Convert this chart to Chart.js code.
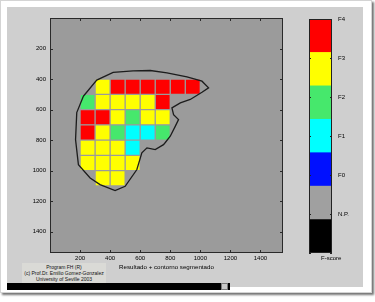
<!DOCTYPE html>
<html>
<head>
<meta charset="utf-8">
<script src="https://cdn.jsdelivr.net/npm/chart.js@4.4.1/dist/chart.umd.min.js"></script>
<style>
    html, body { margin: 0; padding: 0; width: 375px; height: 302px; overflow: hidden; background: #fff; font-family: "Liberation Sans", Arial, sans-serif; }
    .frame { position: absolute; left: 0; top: 0; width: 370px; height: 291px; border: 1px solid #d4d4d4; box-shadow: 2px 2px 2px rgba(0,0,0,0.55); background: #fff; }
    .fig { position: absolute; left: 7px; top: 7px; width: 356px; height: 280px; background: #cfcfcf; }
    .statusbar { position: absolute; left: 7px; top: 283px; width: 223px; height: 7px; background: #000; }
    .statusbar .btn { position: absolute; right: 2px; top: 0; width: 5px; height: 5px; background: #c8c8c8; border: 1px solid #777; }
    canvas { position: absolute; top: 0; }
    #main { left: 0; }
    #cbar { left: 300px; }
    .credit { position: absolute; left: 22px; top: 263px; width: 84px; height: 20px; background: #dadad6; color: #111; font-size: 5px; line-height: 6px; text-align: center; padding-top: 1px; }
    .cblabel { position: absolute; left: 321px; top: 255px; font-size: 6px; color: #000; }
</style>
</head>
<body>
<div class="frame"></div>
<div class="fig"></div>
<canvas id="main" width="375" height="302"></canvas>
<canvas id="cbar" width="75" height="302"></canvas>
<div class="credit">Program FH (R)<br>(c) Prof.Dr. Emilio Gomez-Gonzalez<br>University of Seville 2003</div>
<div class="cblabel">F-score</div>
<div class="statusbar"><div class="btn"></div></div>

<script>
// --- datos ---
const xTicks = [200, 400, 600, 800, 1000, 1200, 1400];
const yTicks = [200, 400, 600, 800, 1000, 1200, 1400];
const colStarts = [200, 300, 400, 500, 600, 700, 800, 900];
const rowStarts = [400, 500, 600, 700, 800, 900, 1000];
const cellSize = 100;

// F-score por celda (fila = rowStarts, columna = colStarts)
const fscoreRows = [
    ['',   'F3', 'F4', 'F4', 'F4', 'F4', 'F4', 'F4'],
    ['F2', 'F3', 'F3', 'F3', 'F3', 'F4', '',   ''  ],
    ['F4', 'F4', 'F3', 'F2', 'F3', 'F3', '',   ''  ],
    ['F4', 'F3', 'F2', 'F1', 'F1', 'F2', '',   ''  ],
    ['F3', 'F3', 'F3', 'F1', '',   '',   '',   ''  ],
    ['F3', 'F3', 'F3', 'F3', '',   '',   '',   ''  ],
    ['',   'F3', 'F3', '',   '',   '',   '',   ''  ]
];

// contorno segmentado
const contourX = [222, 311, 420, 553, 667, 778, 911, 1011, 1055, 1011, 933, 867, 811, 822, 855, 833, 800, 767, 755, 700, 645, 611, 578, 500, 433, 333, 267, 189, 170, 178, 222];
const contourY = [513, 407, 357, 346, 344, 359, 386, 414, 458, 487, 534, 556, 589, 633, 666, 710, 775, 816, 830, 862, 851, 884, 993, 1103, 1131, 1092, 1048, 961, 797, 620, 513];

// barra de color
const bandNames = ['', 'N.P.', 'F0', 'F1', 'F2', 'F3', 'F4'];
const bandValues = [1, 1, 1, 1, 1, 1, 1];
const cbarTickLabels = ['', 'N.P.', 'F0', 'F1', 'F2', 'F3', 'F4'];

// --- estilos ---
const plotGray = '#9b9b9b';
const scoreColors = { '': '#000000', 'N.P.': '#a0a0a0', F0: '#0010ff', F1: '#00ffff', F2: '#46e86c', F3: '#ffff00', F4: '#ff0000' };
const txt = '#000';
Chart.defaults.font.family = '"Liberation Sans", Arial, sans-serif';

// fondo gris + caja con marcas hacia dentro (estilo MATLAB)
const matlabBox = {
    id: 'matlabBox',
    beforeDraw(chart) {
        const { ctx, chartArea: a } = chart;
        ctx.save();
        ctx.fillStyle = plotGray;
        ctx.fillRect(a.left, a.top, a.right - a.left, a.bottom - a.top);
        ctx.restore();
    },
    afterDraw(chart) {
        const { ctx, chartArea: a, scales: { x, y } } = chart;
        ctx.save();
        ctx.strokeStyle = '#2a2a2a';
        ctx.lineWidth = 1;
        ctx.strokeRect(a.left + 0.5, a.top + 0.5, a.right - a.left - 1, a.bottom - a.top - 1);
        ctx.beginPath();
        x.ticks.forEach(t => {
            const px = Math.round(x.getPixelForValue(t.value)) + 0.5;
            ctx.moveTo(px, a.top); ctx.lineTo(px, a.top + 3);
            ctx.moveTo(px, a.bottom); ctx.lineTo(px, a.bottom - 3);
        });
        y.ticks.forEach(t => {
            const py = Math.round(y.getPixelForValue(t.value)) + 0.5;
            ctx.moveTo(a.left, py); ctx.lineTo(a.left + 3, py);
            ctx.moveTo(a.right, py); ctx.lineTo(a.right - 3, py);
        });
        ctx.stroke();
        ctx.restore();
    }
};

// celdas: un dataset por F-score
const cellSets = Object.keys(scoreColors).map(score => {
    const data = [];
    fscoreRows.forEach((row, r) => row.forEach((s, c) => {
        if (s && s === score) data.push({ x: colStarts[c] + cellSize / 2, y: [rowStarts[r], rowStarts[r] + cellSize] });
    }));
    return {
        type: 'bar',
        label: score,
        data,
        backgroundColor: scoreColors[score],
        borderColor: plotGray,
        borderWidth: 1,
        borderSkipped: false,
        grouped: false,
        barPercentage: 1,
        categoryPercentage: 1,
        order: 1
    };
}).filter(d => d.data.length);

new Chart(document.getElementById('main'), {
    type: 'bar',
    data: {
        datasets: [{
            type: 'line',
            label: 'contorno',
            data: contourX.map((v, i) => ({ x: v, y: contourY[i] })),
            borderColor: '#1c1c1c',
            borderWidth: 1.3,
            pointRadius: 0,
            tension: 0,
            fill: false,
            order: 0
        }, ...cellSets]
    },
    options: {
        responsive: false,
        animation: false,
        layout: { padding: { left: 0, top: 18, right: 92, bottom: 0 } },
        plugins: { legend: { display: false }, tooltip: { enabled: false } },
        scales: {
            x: {
                type: 'linear',
                min: 0,
                max: 1550,
                offset: false,
                grid: { display: false, drawTicks: false, offset: false },
                border: { display: false },
                afterBuildTicks: s => { s.ticks = xTicks.map(v => ({ value: v })); },
                afterFit: s => { s.height = 49; },
                ticks: { color: txt, font: { size: 6 }, padding: 2, maxRotation: 0, autoSkip: false, callback: v => String(v) },
                title: { display: true, text: 'Resultado + contorno segmentado', color: txt, font: { size: 6.2 }, padding: { top: 0, bottom: 31 } }
            },
            y: {
                type: 'linear',
                reverse: true,
                min: 0,
                max: 1540,
                grid: { display: false, drawTicks: false },
                border: { display: false },
                afterBuildTicks: s => { s.ticks = yTicks.map(v => ({ value: v })); },
                afterFit: s => { s.width = 50; },
                ticks: { color: txt, font: { size: 6 }, padding: 4, autoSkip: false, callback: v => String(v) }
            }
        }
    },
    plugins: [matlabBox]
});

// marcas de la barra de color
const cbarBox = {
    id: 'cbarBox',
    afterDraw(chart) {
        const { ctx, chartArea: a, scales: { y } } = chart;
        ctx.save();
        ctx.strokeStyle = '#222';
        ctx.lineWidth = 1;
        ctx.strokeRect(a.left + 0.5, a.top + 0.5, a.right - a.left - 1, a.bottom - a.top - 1);
        ctx.beginPath();
        y.ticks.forEach(t => {
            const py = Math.round(y.getPixelForValue(t.value)) + 0.5;
            ctx.moveTo(a.left, py); ctx.lineTo(a.left + 2, py);
            ctx.moveTo(a.right, py); ctx.lineTo(a.right - 2, py);
        });
        ctx.stroke();
        ctx.restore();
    }
};

new Chart(document.getElementById('cbar'), {
    type: 'bar',
    data: {
        labels: ['F-score'],
        datasets: bandNames.map((n, i) => ({
            label: n,
            data: [bandValues[i]],
            backgroundColor: scoreColors[n],
            borderWidth: 0,
            barPercentage: 1,
            categoryPercentage: 1
        }))
    },
    options: {
        responsive: false,
        animation: false,
        layout: { padding: { left: 9, top: 19, right: 0, bottom: 49 } },
        plugins: { legend: { display: false }, tooltip: { enabled: false } },
        scales: {
            x: { display: false, stacked: true },
            y: {
                position: 'right',
                stacked: true,
                min: 0,
                max: 7,
                grid: { display: false, drawTicks: false },
                border: { display: false },
                afterBuildTicks: s => { s.ticks = cbarTickLabels.map((_, i) => ({ value: i * 7 / 6 })); },
                afterFit: s => { s.width = 43; },
                ticks: { color: txt, font: { size: 6 }, padding: 6, autoSkip: false, callback: (v, i) => cbarTickLabels[i] }
            }
        }
    },
    plugins: [cbarBox]
});
</script>
</body>
</html>
